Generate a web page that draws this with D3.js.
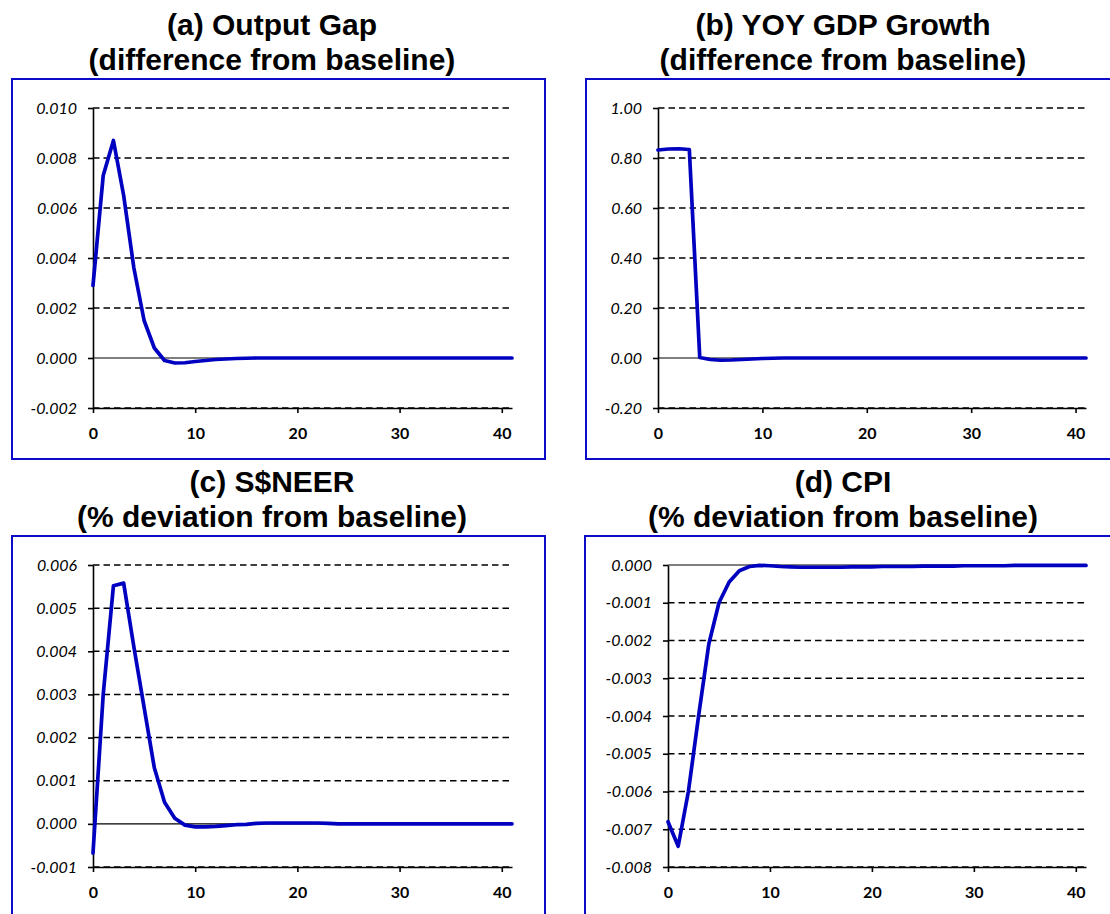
<!DOCTYPE html>
<html>
<head>
<meta charset="utf-8">
<script src="https://cdn.jsdelivr.net/npm/d3@7"></script>
<style>
  body { margin: 0; background: #fff; }
  svg { display: block; }
</style>
</head>
<body>
<svg id="chart" width="1110" height="914"></svg>
<script>
// Quarters after the shock
const periods = d3.range(0, 42);
const xTicks = [0, 10, 20, 30, 40];

// (a) Output gap, difference from baseline
const outputGap = [0.0029, 0.0073, 0.0087, 0.0065, 0.0036, 0.0015, 0.0004, -0.0001, -0.0002, -0.00019,
  -0.00014, -0.0001, -0.00006, -0.00004, -0.00002, -0.00001, 0, 0, 0, 0,
  0, 0, 0, 0, 0, 0, 0, 0, 0, 0,
  0, 0, 0, 0, 0, 0, 0, 0, 0, 0, 0, 0];
const outputGapTicks = [-0.002, 0, 0.002, 0.004, 0.006, 0.008, 0.010];

// (b) YOY GDP growth, difference from baseline
const gdpGrowth = [0.832, 0.836, 0.837, 0.834, 0.002, -0.006, -0.009, -0.008, -0.006, -0.004,
  -0.002, -0.001, 0, 0, 0, 0, 0, 0, 0, 0,
  0, 0, 0, 0, 0, 0, 0, 0, 0, 0,
  0, 0, 0, 0, 0, 0, 0, 0, 0, 0, 0, 0];
const gdpGrowthTicks = [-0.2, 0, 0.2, 0.4, 0.6, 0.8, 1.0];

// (c) S$NEER, % deviation from baseline
const neer = [-0.00068, 0.0030, 0.00552, 0.00558, 0.0041, 0.0027, 0.0013, 0.0005, 0.00013, -0.00003,
  -0.00007, -0.00007, -0.00006, -0.00004, -0.00002, -0.00001, 0.00001, 0.00002, 0.00002, 0.00002,
  0.00002, 0.00002, 0.00002, 0.00001, 0, 0, 0, 0, 0, 0,
  0, 0, 0, 0, 0, 0, 0, 0, 0, 0, 0, 0];
const neerTicks = [-0.001, 0, 0.001, 0.002, 0.003, 0.004, 0.005, 0.006];

// (d) CPI, % deviation from baseline
const cpi = [-0.0068, -0.00745, -0.0060, -0.0040, -0.0021, -0.0010, -0.00045, -0.00015, -0.00004, -0.00001,
  -0.00002, -0.00004, -0.00005, -0.00006, -0.00006, -0.00006, -0.00006, -0.00006, -0.00005, -0.00005,
  -0.00005, -0.00004, -0.00004, -0.00004, -0.00004, -0.00003, -0.00003, -0.00003, -0.00003, -0.00002,
  -0.00002, -0.00002, -0.00002, -0.00002, -0.00001, -0.00001, -0.00001, -0.00001, -0.00001, -0.00001,
  -0.00001, -0.00001];
const cpiTicks = [-0.008, -0.007, -0.006, -0.005, -0.004, -0.003, -0.002, -0.001, 0];

const titles = [
  ["(a) Output Gap", "(difference from baseline)"],
  ["(b) YOY GDP Growth", "(difference from baseline)"],
  ["(c) S$NEER", "(% deviation from baseline)"],
  ["(d) CPI", "(% deviation from baseline)"]
];

// Hyphen-minus for negative tick labels
const locale = d3.formatLocale({ decimal: ".", thousands: ",", grouping: [3], currency: ["", ""], minus: "-" });

const panels = [
  { values: outputGap, ticks: outputGapTicks, fmt: ".3f", title: titles[0],
    frame: [12, 79, 533, 380], cx: 272, x0: 93, x1: 512, yTop: 108, yBot: 408 },
  { values: gdpGrowth, ticks: gdpGrowthTicks, fmt: ".2f", title: titles[1],
    frame: [586, 79, 533, 380], cx: 843, x0: 658, x1: 1086, yTop: 108, yBot: 408 },
  { values: neer, ticks: neerTicks, fmt: ".3f", title: titles[2],
    frame: [12, 536, 533, 390], cx: 272, x0: 93, x1: 512, yTop: 565, yBot: 867 },
  { values: cpi, ticks: cpiTicks, fmt: ".3f", title: titles[3],
    frame: [585, 536, 533, 390], cx: 843, x0: 668, x1: 1086, yTop: 565, yBot: 867 }
];

const svg = d3.select("#chart");

panels.forEach(p => {
  const g = svg.append("g");

  // Chart border
  g.append("rect")
    .attr("x", p.frame[0]).attr("y", p.frame[1])
    .attr("width", p.frame[2]).attr("height", p.frame[3])
    .attr("fill", "none").attr("stroke", "#0c0cc8").attr("stroke-width", 2);

  // Two-line title
  const t = g.append("text")
    .attr("text-anchor", "middle")
    .style("font-family", "'Liberation Sans', Arial, sans-serif")
    .style("font-weight", "bold")
    .style("font-size", "30px")
    .attr("fill", "#000");
  t.append("tspan").attr("x", p.cx).attr("y", p.frame[1] - 44).text(p.title[0]);
  t.append("tspan").attr("x", p.cx).attr("y", p.frame[1] - 9).text(p.title[1]);

  const x = d3.scaleLinear().domain([0, 41]).range([p.x0, p.x1]);
  const y = d3.scaleLinear().domain(d3.extent(p.ticks)).range([p.yBot, p.yTop]);

  // Dashed horizontal gridlines
  g.append("g").selectAll("line")
    .data(p.ticks.filter(v => Math.abs(v) > 1e-12))
    .join("line")
    .attr("x1", p.x0).attr("x2", p.x1)
    .attr("y1", d => y(d)).attr("y2", d => y(d))
    .attr("stroke", "#000").attr("stroke-width", 1.5)
    .attr("stroke-dasharray", "6.5,4");

  // Solid zero line
  g.append("line")
    .attr("x1", p.x0).attr("x2", p.x1)
    .attr("y1", y(0)).attr("y2", y(0))
    .attr("stroke", "#000").attr("stroke-width", 1.2);

  // Bottom (category) axis
  const xAxis = g.append("g")
    .attr("transform", `translate(0,${p.yBot})`)
    .call(d3.axisBottom(x).tickValues(xTicks).tickSize(5).tickSizeOuter(0).tickPadding(15).tickFormat(d3.format("d")));
  xAxis.select(".domain").attr("stroke", "#000").attr("stroke-width", 1.6);
  xAxis.selectAll(".tick line").attr("stroke", "#000").attr("stroke-width", 1.6);
  xAxis.selectAll("text")
    .style("font-family", "Lato, 'Open Sans', sans-serif")
    .style("font-weight", "bold")
    .style("font-size", "16px")
    .attr("fill", "#000");

  // Left value axis
  const yAxis = g.append("g")
    .attr("transform", `translate(${p.x0},0)`)
    .call(d3.axisLeft(y).tickValues(p.ticks).tickSize(5).tickSizeOuter(0).tickPadding(11).tickFormat(locale.format(p.fmt)));
  yAxis.select(".domain").attr("stroke", "#000").attr("stroke-width", 1.6);
  yAxis.selectAll(".tick line").attr("stroke", "#000").attr("stroke-width", 1.6);
  yAxis.selectAll("text")
    .style("font-family", "Lato, 'Open Sans', sans-serif")
    .style("font-style", "italic")
    .style("font-size", "16px")
    .attr("fill", "#000");

  // Response line
  const line = d3.line().x((d, i) => x(periods[i])).y(d => y(d));
  g.append("path")
    .datum(p.values)
    .attr("d", line)
    .attr("fill", "none")
    .attr("stroke", "#0000c0")
    .attr("stroke-width", 3.7)
    .attr("stroke-linejoin", "round")
    .attr("stroke-linecap", "round");
});
</script>
</body>
</html>
